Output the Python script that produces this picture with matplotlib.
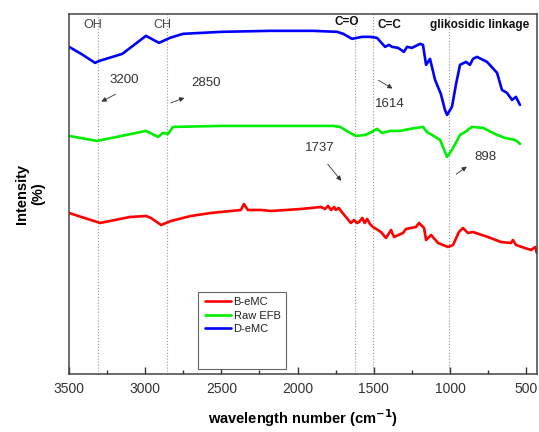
import matplotlib
matplotlib.use("Agg")
import matplotlib.pyplot as plt
from matplotlib.ticker import MultipleLocator
from matplotlib.patches import Rectangle

plt.rcParams['font.family'] = ['Liberation Sans', 'DejaVu Sans']

# ---- data (wavenumber cm^-1, relative intensity, arbitrary offset units) ----
blue_x = [3500, 3420, 3329, 3300, 3150, 2995, 2909, 2837, 2752, 2500, 2181, 1900,
          1741, 1700, 1643, 1577, 1525, 1479, 1426, 1400, 1380, 1341, 1302, 1282,
          1249, 1197, 1177, 1157, 1131, 1098, 1060, 1033, 1019, 987, 960, 934, 895,
          869, 849, 823, 757, 691, 659, 626, 593, 567, 541]
blue_y = [327, 320, 311, 313, 320, 338, 331, 336, 340, 342, 343, 343,
          342, 340, 335, 337, 337, 336, 327, 329, 327, 326, 322, 327,
          326, 330, 329, 309, 315, 294, 280, 264, 259, 267, 290, 309, 312,
          309, 315, 317, 312, 301, 284, 281, 274, 277, 269]

green_x = [3500, 3316, 2995, 2915, 2883, 2850, 2818, 2500, 2181, 1767, 1721, 1656,
           1617, 1557, 1525, 1479, 1446, 1393, 1328, 1262, 1177, 1151, 1065, 1019,
           987, 934, 901, 856, 783, 691, 639, 573, 554, 541]
green_y = [238, 233, 243, 237, 241, 240, 247, 248, 248, 248, 247, 241,
           238, 239, 241, 245, 241, 243, 243, 245, 247, 242, 234, 217,
           224, 239, 242, 247, 246, 239, 236, 234, 232, 230]

red_x = [3500, 3316, 3296, 3100, 2995, 2962, 2896, 2831, 2700, 2569, 2372, 2352,
         2326, 2240, 2174, 1978, 1847, 1820, 1800, 1780, 1760, 1749, 1730, 1710,
         1683, 1650, 1630, 1610, 1597, 1575, 1560, 1544, 1525, 1505, 1453, 1420,
         1387, 1367, 1308, 1289, 1223, 1203, 1170, 1157, 1124, 1078, 1013, 980,
         941, 915, 882, 849, 751, 665, 600, 587, 567, 468, 440, 430]
red_y = [161, 152, 151, 157, 158, 156, 149, 153, 158, 161, 164, 170,
         164, 164, 163, 165, 167, 165, 168, 164, 167, 164, 166, 162,
         157, 151, 154, 151, 152, 156, 151, 155, 150, 147, 142, 136,
         144, 137, 141, 145, 147, 151, 146, 134, 139, 131, 127, 129,
         142, 146, 141, 142, 137, 132, 131, 134, 129, 124, 127, 121]

series_labels = ['B-eMC', 'Raw EFB', 'D-eMC']
ref_lines = [3310, 2855, 1620, 1505, 1005]
group_labels = ['OH', 'CH', 'C=O', 'C=C', 'glikosidic linkage']
group_x = [3343, 2890, 1676, 1394, 803]
peak_labels = ['3200', '2850', '1614', '1737', '898']
peak_text_xy = [(3139, 294), (2601, 291), (1394, 270), (1853, 226), (770, 217)]
peak_arrow_tail = [(3178, 281), (2850, 270), (1485, 295), (1814, 212), (974, 198)]
peak_arrow_head = [(3303, 271), (2726, 277), (1361, 284), (1702, 191), (875, 209)]

fig = plt.figure(figsize=(5.39, 4.32), dpi=100)
ax = fig.add_axes([0.128, 0.134, 0.868, 0.834])

line_kw = dict(lw=1.9, solid_joinstyle='round', solid_capstyle='round')
ax.plot(red_x, red_y, color='#ff0000', label=series_labels[0], **line_kw)
ax.plot(green_x, green_y, color='#00ee00', label=series_labels[1], **line_kw)
ax.plot(blue_x, blue_y, color='#0000ff', label=series_labels[2], **line_kw)

for xv in ref_lines:
    ax.axvline(xv, color='#9a9a9a', lw=0.8, ls=':', zorder=0)

for i, (lab, gx) in enumerate(zip(group_labels, group_x)):
    bold = i >= 2
    ax.text(gx, 352 if i == 2 else 349, lab, ha='center', va='center',
            fontsize=8.5 if bold else 9, fontweight='bold' if bold else 'normal',
            color='#111111' if bold else '#444444')

for lab, txy, tail, head in zip(peak_labels, peak_text_xy, peak_arrow_tail, peak_arrow_head):
    ax.text(txy[0], txy[1], lab, ha='center', va='center', fontsize=9.5, color='#333333')
    ax.annotate('', xy=head, xytext=tail,
                arrowprops=dict(arrowstyle='-|>', color='#333333', lw=0.6,
                                mutation_scale=7))

ax.set_xlim(3500, 430)
ax.set_ylim(0, 360)
ax.xaxis.set_major_locator(MultipleLocator(500))
ax.xaxis.set_minor_locator(MultipleLocator(250))
ax.set_yticks([])
ax.tick_params(axis='x', which='major', direction='in', length=5, width=1,
               labelsize=10, colors='#333333', pad=6)
ax.tick_params(axis='x', which='minor', direction='in', length=3, width=1, colors='#333333')
for s in ax.spines.values():
    s.set_color('#444444')
    s.set_linewidth(1.1)

ax.set_xlabel('wavelength number (cm$^{\\mathbf{-1}}$)', fontsize=10.5, fontweight='bold',
              labelpad=8)
ax.set_ylabel('Intensity\n(%)', fontsize=10.5, fontweight='bold', labelpad=17)

# legend box (drawn separately to match the tall frame of the original)
ax.add_patch(Rectangle((0.276, 0.014), 0.188, 0.214, transform=ax.transAxes,
                       facecolor='white', edgecolor='#666666', lw=0.8, zorder=4))
leg = ax.legend(loc='upper left', bbox_to_anchor=(0.290, 0.213), fontsize=8,
                frameon=False, handlelength=2.4, handletextpad=0.2, borderpad=0,
                labelspacing=0.3, borderaxespad=0)
leg.set_zorder(5)
for t in leg.get_texts():
    t.set_color('#222222')

fig.savefig('out.png', dpi=100)
